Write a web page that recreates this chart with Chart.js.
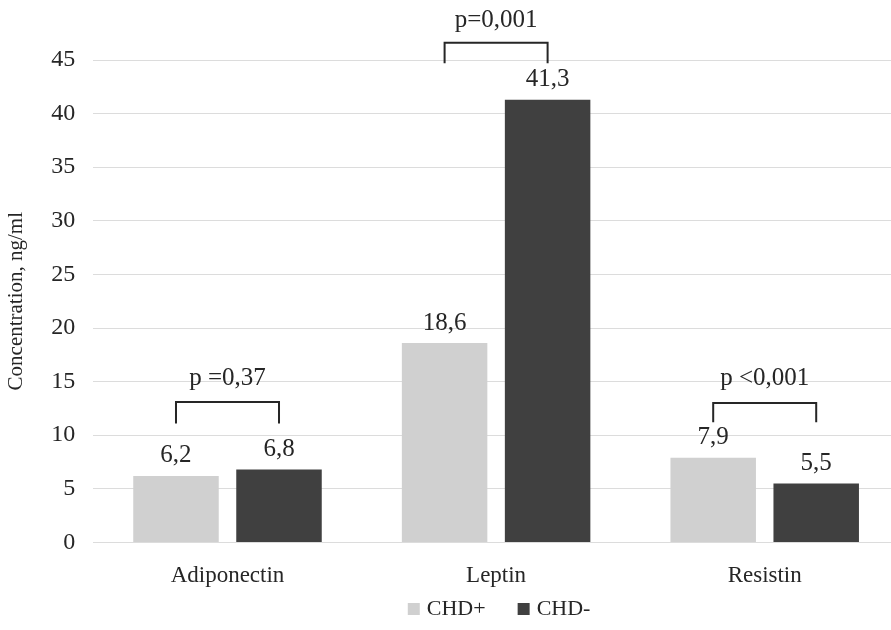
<!DOCTYPE html>
<html>
<head>
<meta charset="utf-8">
<script src="https://cdn.jsdelivr.net/npm/chart.js@4/dist/chart.umd.min.js"></script>
<style>
  html, body { margin: 0; padding: 0; background: #fff; overflow: hidden; width: 891px; height: 630px; }
  #wrap { position: absolute; left: 0; top: 0; width: 910px; height: 630px; }
</style>
</head>
<body>
<div id="wrap"><canvas id="c" width="910" height="630"></canvas></div>
<script>
// ---- data ----
const categories = ['Adiponectin', 'Leptin', 'Resistin'];
const seriesNames = ['CHD+', 'CHD-'];
const chdPlus = [6.2, 18.6, 7.9];
const chdMinus = [6.8, 41.3, 5.5];
const pValues = ['p =0,37', 'p=0,001', 'p <0,001'];
const yTicks = [0, 5, 10, 15, 20, 25, 30, 35, 40, 45];

const FONT = '"Liberation Serif", "Times New Roman", serif';
const TEXT = '#262626';
const colors = ['#d0d0d0', '#404040'];

// bracket annotation geometry (in axis units), styles separate from data
const bracketCfg = {
  adds: [
    { legBottom: 11.1, top: 13.1, label: 15.3 },
    { legBottom: 44.7, top: 46.6, label: 48.7 },
    { legBottom: 11.2, top: 13.0, label: 15.3 }
  ]
};

const fmt = v => String(v).replace('.', ',');

const labelsPlugin = {
  id: 'valueLabels',
  afterDatasetsDraw(chart) {
    const ctx = chart.ctx;
    const y = chart.scales.y;
    ctx.save();
    ctx.fillStyle = TEXT;
    ctx.font = '25px ' + FONT;
    ctx.textAlign = 'center';
    ctx.textBaseline = 'middle';
    chart.data.datasets.forEach((ds, di) => {
      const meta = chart.getDatasetMeta(di);
      meta.data.forEach((bar, i) => {
        ctx.fillText(fmt(ds.data[i]), bar.x, bar.y - 20);
      });
    });
    // brackets
    const m0 = chart.getDatasetMeta(0), m1 = chart.getDatasetMeta(1);
    ctx.strokeStyle = '#262626';
    ctx.lineWidth = 2;
    categories.forEach((c, i) => {
      const b = bracketCfg.adds[i];
      const x1 = m0.data[i].x, x2 = m1.data[i].x;
      const yb = y.getPixelForValue(b.legBottom), yt = y.getPixelForValue(b.top);
      ctx.beginPath();
      ctx.moveTo(x1, yb);
      ctx.lineTo(x1, yt);
      ctx.lineTo(x2, yt);
      ctx.lineTo(x2, yb);
      ctx.stroke();
      ctx.fillText(pValues[i], (x1 + x2) / 2, y.getPixelForValue(b.label));
    });
    // legend
    ctx.font = '22px ' + FONT;
    ctx.textAlign = 'left';
    const box = 12, gap = 7, spacing = 32;
    const widths = seriesNames.map(n => ctx.measureText(n).width);
    const total = widths.reduce((a, w) => a + box + gap + w, 0) + spacing;
    let x = (chart.chartArea.left + chart.chartArea.right) / 2 - total / 2 + 3;
    const ly = 609;
    seriesNames.forEach((n, k) => {
      ctx.fillStyle = colors[k];
      ctx.fillRect(x, ly - box / 2, box, box);
      x += box + gap;
      ctx.fillStyle = TEXT;
      ctx.fillText(n, x, ly);
      x += widths[k] + spacing;
    });
    ctx.restore();
  }
};

new Chart(document.getElementById('c'), {
  type: 'bar',
  data: {
    labels: categories,
    datasets: [
      { label: seriesNames[0], data: chdPlus, backgroundColor: colors[0] },
      { label: seriesNames[1], data: chdMinus, backgroundColor: colors[1] }
    ]
  },
  options: {
    responsive: false,
    animation: false,
    devicePixelRatio: 1,
    layout: { padding: { top: 60, right: 11, left: 4, bottom: 28 } },
    datasets: { bar: { categoryPercentage: 0.767, barPercentage: 0.83 } },
    plugins: { legend: { display: false }, tooltip: { enabled: false } },
    scales: {
      x: {
        grid: { display: false },
        border: { display: false },
        ticks: { color: TEXT, font: { family: FONT, size: 23 }, padding: 12 }
      },
      y: {
        min: 0, max: 45,
        afterBuildTicks: s => { s.ticks = yTicks.map(v => ({ value: v })); },
        grid: { color: '#dcdcdc', lineWidth: 1, drawTicks: false },
        border: { display: false },
        ticks: { color: TEXT, font: { family: FONT, size: 24 }, padding: 18 },
        title: { display: true, text: 'Concentration, ng/ml', color: TEXT, font: { family: FONT, size: 21 }, padding: { top: 0, bottom: 4 } }
      }
    }
  },
  plugins: [labelsPlugin]
});
</script>
</body>
</html>
